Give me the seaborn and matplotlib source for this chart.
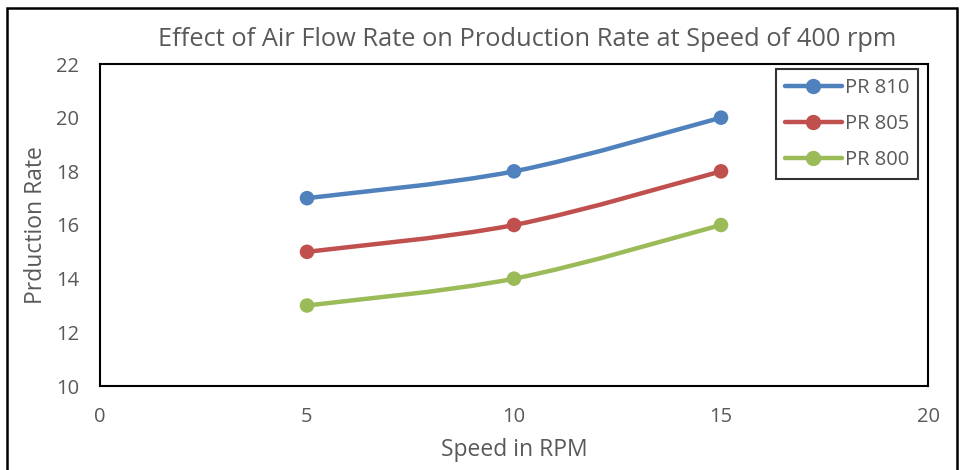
import numpy as np
import pandas as pd
import matplotlib
matplotlib.use("Agg")
import matplotlib.pyplot as plt
from matplotlib.path import Path
from matplotlib.patches import PathPatch
from matplotlib.lines import Line2D
import seaborn as sns

speed = [5, 10, 15]
series_names = ["PR 810", "PR 805", "PR 800"]
pr810 = [17, 18, 20]
pr805 = [15, 16, 18]
pr800 = [13, 14, 16]
colors = ["#4F81BD", "#C0504D", "#9BBB59"]

title = "Effect of Air Flow Rate on Production Rate at Speed of 400 rpm"
xlabel = "Speed in RPM"
ylabel = "Prduction Rate"
xticks = [0, 5, 10, 15, 20]
yticks = [10, 12, 14, 16, 18, 20, 22]

rows = []
for name, vals in zip(series_names, [pr810, pr805, pr800]):
    for s, v in zip(speed, vals):
        rows.append({"Speed": s, "PR": v, "Series": name})
df = pd.DataFrame(rows)

sns.set_theme(style="white")
plt.rcParams["font.family"] = ["Open Sans", "DejaVu Sans"]
txt = "#595959"

fig = plt.figure(figsize=(9.6, 4.7), dpi=100)
ax = fig.add_axes([100 / 960, 1 - 386 / 470, 828 / 960, 322 / 470])

def smooth_path(xs, ys):
    pts = np.column_stack([xs, ys]).astype(float)
    n = len(pts)
    verts = [pts[0]]
    codes = [Path.MOVETO]
    for i in range(n - 1):
        p0 = pts[i - 1] if i > 0 else pts[i]
        p1 = pts[i]
        p2 = pts[i + 1]
        p3 = pts[i + 2] if i + 2 < n else pts[i + 1]
        c1 = p1 + (p2 - p0) / 6.0
        c2 = p2 - (p3 - p1) / 6.0
        verts += [c1, c2, p2]
        codes += [Path.CURVE4] * 3
    return Path(verts, codes)

for name, col in zip(series_names, colors):
    sub = df[df["Series"] == name]
    patch = PathPatch(smooth_path(sub["Speed"].values, sub["PR"].values),
                      facecolor="none", edgecolor=col, lw=3.2,
                      capstyle="round", joinstyle="round", zorder=2)
    ax.add_patch(patch)

sns.scatterplot(data=df, x="Speed", y="PR", hue="Series", palette=colors,
                hue_order=series_names, s=110, edgecolor="none", ax=ax,
                legend=False, zorder=3)

ax.set_xlim(0, 20)
ax.set_ylim(10, 22)
ax.set_xticks(xticks)
ax.set_yticks(yticks)
ax.tick_params(axis="both", labelsize=14.5, colors=txt, length=0)
ax.tick_params(axis="y", pad=15)
ax.tick_params(axis="x", pad=15)
for sp in ax.spines.values():
    sp.set_color("black")
    sp.set_linewidth(1.5)
ax.set_xlabel(xlabel, fontsize=16.5, color=txt, labelpad=8)
ax.set_ylabel(ylabel, fontsize=16.5, color=txt, labelpad=6)
fig.text(527 / 960, 1 - 40 / 470, title, fontsize=18.3, color=txt,
         ha="center", va="center")

handles = [Line2D([0], [0], color=c, lw=3.2, marker="o", markersize=10,
                  solid_capstyle="round") for c in colors]
leg = ax.legend(handles, series_names, loc="upper right",
                bbox_to_anchor=(918 / 960, 1 - 69 / 470),
                bbox_transform=fig.transFigure, frameon=True, fancybox=False,
                fontsize=14.5, handlelength=2.8, handletextpad=0.15,
                borderpad=0.45, labelspacing=0.8, borderaxespad=0)
leg.get_frame().set_edgecolor("black")
leg.get_frame().set_linewidth(1.5)
for t in leg.get_texts():
    t.set_color(txt)

border = plt.Rectangle((7 / 960, -0.05), 950 / 960, 1.05 - 8 / 470,
                       transform=fig.transFigure, fill=False,
                       edgecolor="black", lw=1.8)
fig.patches.append(border)

fig.savefig("out.png", dpi=100)
